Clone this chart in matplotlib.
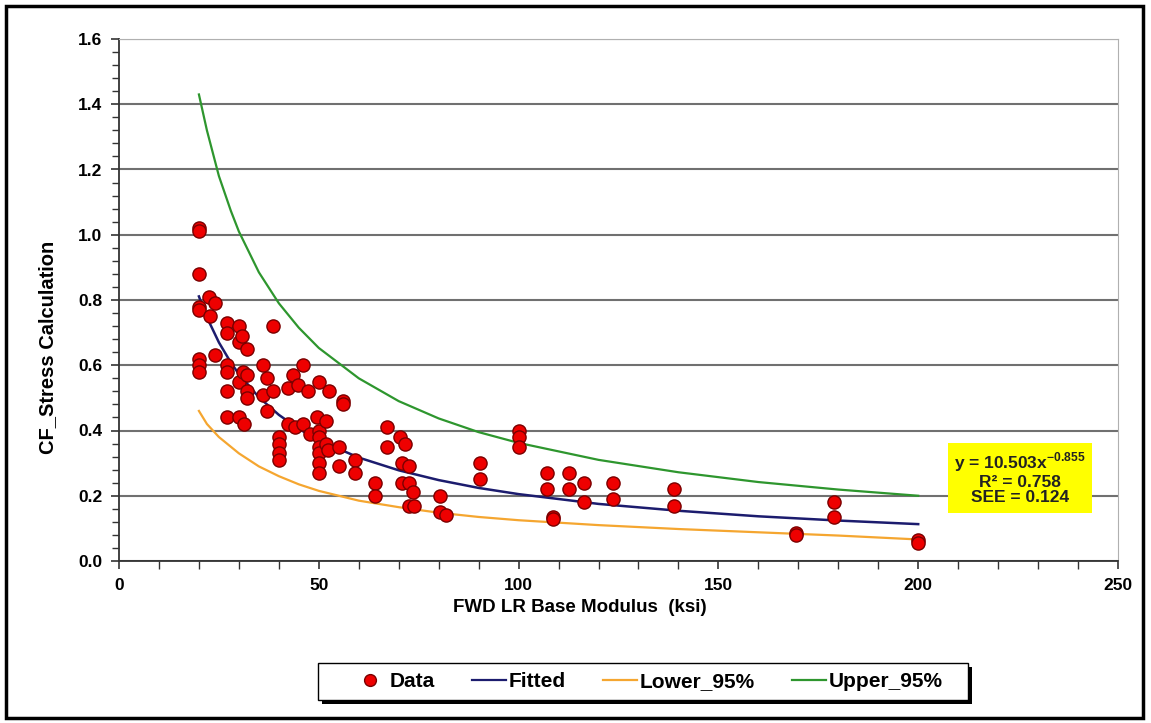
import matplotlib
matplotlib.use('Agg')
import matplotlib.pyplot as plt
from matplotlib.lines import Line2D
from matplotlib.patches import Rectangle
from matplotlib.ticker import MultipleLocator

plt.rcParams['font.family'] = ['Liberation Sans', 'DejaVu Sans']
plt.rcParams['font.weight'] = 'bold'
plt.rcParams['mathtext.fontset'] = 'custom'
plt.rcParams['mathtext.rm'] = 'Liberation Sans'
plt.rcParams['mathtext.bf'] = 'Liberation Sans:bold'

# measured points (FWD LR base modulus, CF_stress)
data_x = [20, 20, 20, 20, 20, 20, 20, 20,
          22.5, 22.8, 24, 24,
          27, 27, 27, 27, 27, 27,
          30, 30, 30, 30, 30.8, 31, 31.3,
          32, 32, 32, 32, 36, 36, 37, 37, 38.5, 38.5,
          40, 40, 40, 40, 42.3, 42.3, 43.5, 44, 44.8,
          46, 46, 47.3, 47.8, 49.5,
          50, 50, 50, 50, 50, 50, 50,
          51.8, 51.8, 52.3, 52.5, 55, 55, 56, 56, 59, 59, 64, 64, 67, 67,
          70.3, 70.8, 70.8, 71.6, 72.6, 72.6, 72.6, 73.6, 73.8,
          80.3, 80.3, 81.8, 90.3, 90.3, 100, 100, 100,
          107, 107, 108.7, 108.7, 112.6, 112.6, 116.3, 116.3, 123.7, 123.7,
          139, 139, 169.5, 169.5, 179, 179, 200, 200]
data_y = [1.02, 1.01, 0.88, 0.78, 0.77, 0.62, 0.60, 0.58,
          0.81, 0.75, 0.79, 0.63,
          0.73, 0.70, 0.60, 0.58, 0.52, 0.44,
          0.72, 0.67, 0.55, 0.44, 0.69, 0.58, 0.42,
          0.65, 0.57, 0.52, 0.50, 0.60, 0.51, 0.56, 0.46, 0.72, 0.52,
          0.38, 0.36, 0.33, 0.31, 0.53, 0.42, 0.57, 0.41, 0.54,
          0.60, 0.42, 0.52, 0.39, 0.44,
          0.55, 0.40, 0.38, 0.35, 0.33, 0.30, 0.27,
          0.43, 0.36, 0.34, 0.52, 0.35, 0.29, 0.49, 0.48, 0.31, 0.27, 0.24, 0.20, 0.41, 0.35,
          0.38, 0.30, 0.24, 0.36, 0.29, 0.24, 0.17, 0.21, 0.17,
          0.20, 0.15, 0.14, 0.30, 0.25, 0.40, 0.38, 0.35,
          0.27, 0.22, 0.135, 0.13, 0.27, 0.22, 0.24, 0.18, 0.24, 0.19,
          0.22, 0.17, 0.085, 0.08, 0.18, 0.135, 0.065, 0.055]

curve_x = [20, 22, 25, 28, 30, 35, 40, 45, 50, 60, 70, 80, 90, 100, 120, 140, 160, 180, 200]
fitted_y = [0.811, 0.747, 0.670, 0.608, 0.573, 0.502, 0.448, 0.405, 0.370, 0.317, 0.278,
            0.248, 0.224, 0.205, 0.175, 0.154, 0.137, 0.124, 0.113]
lower_y = [0.46, 0.42, 0.38, 0.35, 0.33, 0.29, 0.26, 0.235, 0.215, 0.185, 0.165,
           0.148, 0.135, 0.125, 0.11, 0.098, 0.088, 0.078, 0.066]
upper_y = [1.43, 1.32, 1.18, 1.073, 1.01, 0.885, 0.79, 0.715, 0.653, 0.56, 0.49,
           0.437, 0.395, 0.362, 0.31, 0.272, 0.242, 0.219, 0.20]

legend_labels = ['Data', 'Fitted', 'Lower_95%', 'Upper_95%']
eq_text = 'y = 10.503x$^{\\mathbf{-0.855}}$\nR² = 0.758\nSEE = 0.124'

W, H = 1151, 723
fig = plt.figure(figsize=(W / 100, H / 100), dpi=100)
ax = fig.add_axes([119 / W, 1 - 561 / H, (1118 - 119) / W, (561 - 39) / H])


def fig_box(x0, y0, x1, y1, **kw):
    # rectangle given in pixel coords (top-left origin)
    return Rectangle((x0 / W, 1 - y1 / H), (x1 - x0) / W, (y1 - y0) / H,
                     transform=fig.transFigure, **kw)


ax.set_xlim(0, 250)
ax.set_ylim(0, 1.6)
ax.yaxis.set_major_locator(MultipleLocator(0.2))
ax.yaxis.set_minor_locator(MultipleLocator(0.04))
ax.xaxis.set_major_locator(MultipleLocator(50))
ax.xaxis.set_minor_locator(MultipleLocator(10))
ax.set_yticklabels(['%.1f' % v for v in ax.get_yticks()])
ax.tick_params(which='both', direction='out', color='#333333', labelsize=12.5)
ax.tick_params(which='major', length=6, width=1.2, pad=6)
ax.tick_params(which='minor', length=5, width=1.0)
ax.tick_params(axis='x', which='both', length=6)
ax.grid(axis='y', which='major', color='#707070', lw=1.5)
ax.set_axisbelow(True)
for s in ['top', 'right']:
    ax.spines[s].set_color('#b0b0b0')
ax.spines['left'].set_color('#333333')
ax.spines['bottom'].set_color('#333333')
ax.spines['left'].set_linewidth(1.3)
ax.spines['bottom'].set_linewidth(1.3)

ax.plot(curve_x, upper_y, color='#2e962e', lw=1.6, zorder=3)
ax.plot(curve_x, lower_y, color='#f5a630', lw=1.6, zorder=3)
ax.plot(curve_x, fitted_y, color='#1c1c6e', lw=1.8, zorder=3)
ax.scatter(data_x, data_y, s=90, color='#ee0000', edgecolor='#7a0000', lw=1.0, zorder=4)

fig.text(48 / W, 1 - 347 / H, 'CF_Stress Calculation', rotation=90, ha='center', va='center',
         fontsize=14.5)
fig.text(580 / W, 1 - 607 / H, 'FWD LR Base Modulus  (ksi)', ha='center', va='center',
         fontsize=13.5)

# equation box
fig.patches.append(fig_box(948, 443, 1092, 513, fc='#ffff00', ec='none'))
fig.text(1020 / W, 1 - 478 / H, eq_text, ha='center', va='center', fontsize=12.5,
         linespacing=1.05, color='#222222')

# legend with drop shadow
fig.patches.append(fig_box(322, 667, 972, 704, fc='black', ec='none'))
fig.patches.append(fig_box(318, 663, 968, 700, fc='white', ec='black', lw=1.0))
handles = [Line2D([], [], ls='none', marker='o', ms=8.5, mfc='#ee0000', mec='#7a0000'),
           Line2D([], [], color='#1c1c6e', lw=1.6),
           Line2D([], [], color='#f5a630', lw=1.6),
           Line2D([], [], color='#2e962e', lw=1.6)]
fig.legend(handles, legend_labels, ncol=4, loc='center',
           bbox_to_anchor=(648 / W, 1 - 681.5 / H), fontsize=15, frameon=False,
           handlelength=1.6, handletextpad=0.15, columnspacing=1.8, borderpad=0.2)

fig.patches.append(fig_box(6, 6, 1143, 718, fill=False, ec='black', lw=2.5))

fig.savefig('out.png', dpi=100)
